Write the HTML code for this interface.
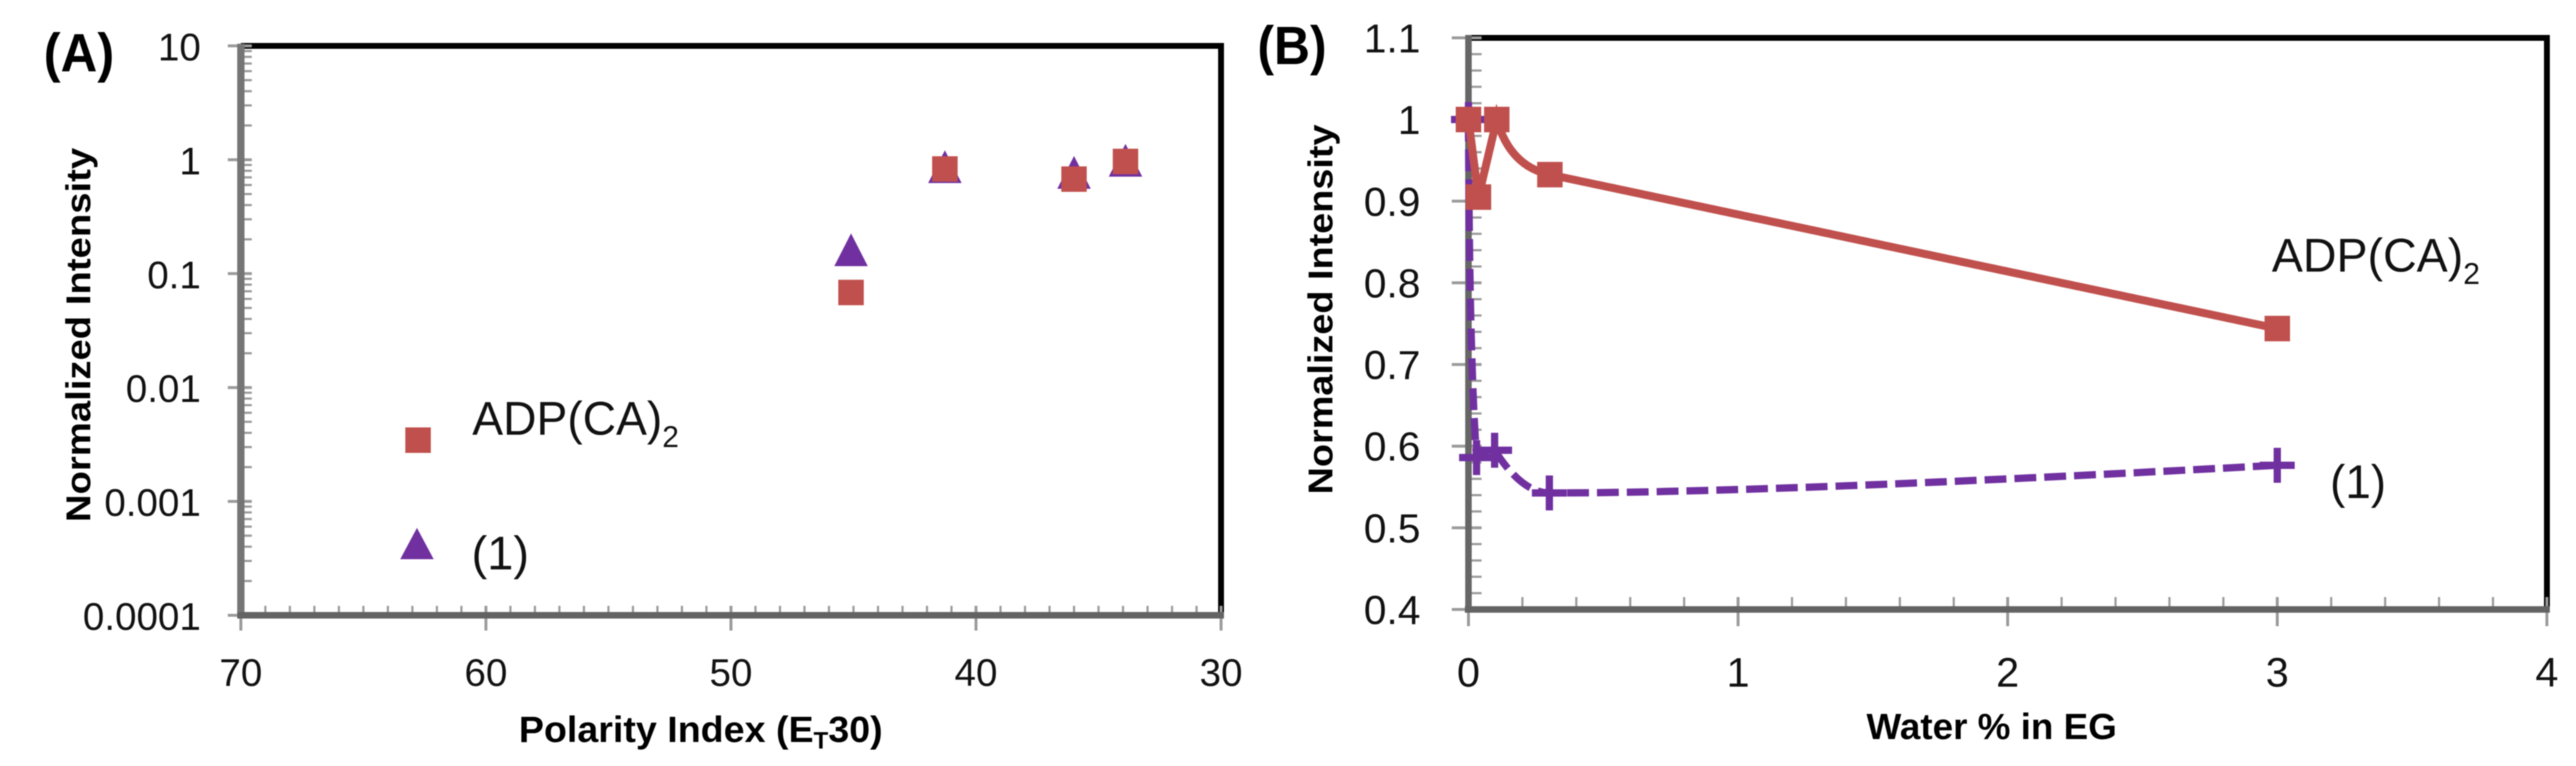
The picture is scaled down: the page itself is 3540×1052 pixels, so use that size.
<!DOCTYPE html>
<html lang="en">
<head>
<meta charset="utf-8">
<title>Normalized intensity charts</title>
<style>
html,body{margin:0;padding:0;background:#fff;width:3540px;height:1052px;overflow:hidden}
svg{display:block;filter:blur(0.7px)}
text{font-family:"Liberation Sans",sans-serif;fill:#111}
.bold{font-weight:bold;fill:#000}
</style>
</head>
<body>
<svg id="chart" xmlns="http://www.w3.org/2000/svg" width="3540" height="1052" viewBox="0 0 3540 1052">
  <rect x="0" y="0" width="3540" height="1052" fill="#fff"/>

  <!-- Panel A static furniture -->
  <g id="panel-a">
    <text class="bold" x="60" y="98" font-size="74" textLength="97" lengthAdjust="spacingAndGlyphs">(A)</text>
    <line x1="331" y1="63" x2="1682" y2="63" stroke="#000" stroke-width="8"/>
    <line x1="1678" y1="63" x2="1678" y2="845" stroke="#000" stroke-width="8"/>
    <g id="a-axes"></g>
    <line x1="331" y1="60" x2="331" y2="849" stroke="#757575" stroke-width="10"/>
    <line x1="326" y1="845" x2="1682" y2="845" stroke="#636363" stroke-width="9"/>
    <text class="bold" transform="translate(124,717) rotate(-90)" font-size="47" textLength="514" lengthAdjust="spacingAndGlyphs">Normalized Intensity</text>
    <text class="bold" x="713" y="1019" font-size="50" textLength="500" lengthAdjust="spacingAndGlyphs">Polarity Index (E<tspan font-size="32" dy="9">T</tspan><tspan dy="-9">30)</tspan></text>
    <rect x="557" y="587" width="35" height="35" fill="#c0504d"/>
    <polygon points="573,725 596,768 550,768" fill="#7030a0"/>
    <text x="649" y="597" font-size="65" textLength="284" lengthAdjust="spacingAndGlyphs">ADP(CA)<tspan font-size="42" dy="17">2</tspan></text>
    <text x="648" y="782" font-size="65" textLength="79" lengthAdjust="spacingAndGlyphs">(1)</text>
    <g id="a-marks"></g>
  </g>

  <!-- Panel B static furniture -->
  <g id="panel-b">
    <text class="bold" x="1728" y="88" font-size="74" textLength="95" lengthAdjust="spacingAndGlyphs">(B)</text>
    <line x1="2018" y1="52" x2="3504" y2="52" stroke="#000" stroke-width="8"/>
    <line x1="3500" y1="52" x2="3500" y2="837" stroke="#000" stroke-width="8"/>
    <g id="b-axes"></g>
    <line x1="2018" y1="48" x2="2018" y2="841" stroke="#666" stroke-width="9"/>
    <line x1="2013" y1="837" x2="3504" y2="837" stroke="#636363" stroke-width="9"/>
    <text class="bold" transform="translate(1831,679) rotate(-90)" font-size="47" textLength="508" lengthAdjust="spacingAndGlyphs">Normalized Intensity</text>
    <text class="bold" x="2565" y="1015" font-size="50" textLength="344" lengthAdjust="spacingAndGlyphs">Water % in EG</text>
    <text x="3122" y="373" font-size="65" textLength="286" lengthAdjust="spacingAndGlyphs">ADP(CA)<tspan font-size="42" dy="17">2</tspan></text>
    <text x="3202" y="684" font-size="65" textLength="77" lengthAdjust="spacingAndGlyphs">(1)</text>
    <g id="b-marks"></g>
  </g>
</svg>

<script>
// ---- Panel A data ----
const aXTicks = [70, 60, 50, 40, 30];
const aYTicks = [10, 1, 0.1, 0.01, 0.001, 0.0001];
const aYTickLabels = ['10', '1', '0.1', '0.01', '0.001', '0.0001'];
const aPolarity = [45.1, 41.27, 36.0, 33.9];
const aAdpValues = [0.0683, 0.83, 0.676, 0.966];
const aCompound1Values = [0.162, 0.87, 0.775, 0.99];

// ---- Panel B data ----
const bXTicks = [0, 1, 2, 3, 4];
const bYTicks = [0.4, 0.5, 0.6, 0.7, 0.8, 0.9, 1, 1.1];
const bYTickLabels = ['0.4', '0.5', '0.6', '0.7', '0.8', '0.9', '1', '1.1'];
const bWaterAdp = [0, 0.037, 0.105, 0.302, 3];
const bAdpValues = [1, 0.905, 1, 0.9325, 0.744];
const bWaterCompound1 = [0, 0.03, 0.097, 0.3, 3];
const bCompound1Values = [1, 0.586, 0.595, 0.5427, 0.5766];

// ---- Axis functions ----
const ax = v => 331 + (70 - v) * (1678 - 331) / 40;
const ay = v => 63 + (1 - Math.log10(v)) * (845 - 63) / 5;
const bx = v => 2018 + v * (3500 - 2018) / 4;
const by = v => 837 - (v - 0.4) * (837 - 52) / 0.7;

const NS = 'http://www.w3.org/2000/svg';
function make(tag, attrs, parent) {
  const el = document.createElementNS(NS, tag);
  for (const k in attrs) el.setAttribute(k, attrs[k]);
  parent.appendChild(el);
  return el;
}
// Each segment is a quadratic curve; its control point sits at a fraction of the
// chord (fx, fy), which reproduces the sag of the original's smoothed lines.
function curvePath(pts, bends) {
  let d = 'M' + pts[0][0] + ' ' + pts[0][1];
  for (let i = 0; i < pts.length - 1; i++) {
    const a = pts[i], b = pts[i + 1], f = bends[i];
    d += ' Q' + (a[0] + (b[0] - a[0]) * f[0]) + ' ' + (a[1] + (b[1] - a[1]) * f[1]) + ' ' + b[0] + ' ' + b[1];
  }
  return d;
}
function tick(parent, x1, y1, x2, y2, w) {
  const el = make('line', {x1: x1, y1: y1, x2: x2, y2: y2, stroke: '#9a9a9a', 'stroke-width': w}, parent);
  
  
}
function label(parent, x, y, str, size, anchor) {
  const el = make('text', {x: x, y: y, 'font-size': size, 'text-anchor': anchor}, parent);
  el.textContent = str;
  
  
}
function square(parent, x, y) {
  const el = make('rect', {x: x - 17.5, y: y - 17.5, width: 35, height: 35, fill: '#c0504d'}, parent);
  
  
}
function triangle(parent, x, y) {
  const el = make('polygon', {points: x + ',' + (y - 22.5) + ' ' + (x + 23) + ',' + (y + 22.5) + ' ' + (x - 23) + ',' + (y + 22.5), fill: '#7030a0'}, parent);
  
  
}
function plus(parent, x, y) {
  const el = make('path', {d: 'M' + (x - 24) + ' ' + y + 'H' + (x + 24) + 'M' + x + ' ' + (y - 24) + 'V' + (y + 24), stroke: '#7030a0', 'stroke-width': 10, fill: 'none'}, parent);
  
  
}

// ---- Panel A axes ----
const aAxes = document.getElementById('a-axes');
aYTicks.forEach((v, i) => {
  tick(aAxes, 313, ay(v), 346, ay(v), 4);
  label(aAxes, 276, ay(v) + 20, aYTickLabels[i], 53, 'end');
  if (i < aYTicks.length - 1) {
    for (let m = 2; m < 10; m++) tick(aAxes, 331, ay(aYTicks[i + 1] * m), 346, ay(aYTicks[i + 1] * m), 3);
  }
});
for (let v = aXTicks[0]; v >= aXTicks[aXTicks.length - 1]; v--) {
  if (v % 10 === 0) continue;
  tick(aAxes, ax(v), 832, ax(v), 845, 3);
}
aXTicks.forEach(v => {
  tick(aAxes, ax(v), 832, ax(v), 866, 4);
  label(aAxes, ax(v), 942, String(v), 53, 'middle');
});

// ---- Panel A marks ----
const aMarks = document.getElementById('a-marks');
aPolarity.forEach((p, i) => triangle(aMarks, ax(p), ay(aCompound1Values[i])));
aPolarity.forEach((p, i) => square(aMarks, ax(p), ay(aAdpValues[i])));

// ---- Panel B axes ----
const bAxes = document.getElementById('b-axes');
bYTicks.forEach((v, i) => {
  tick(bAxes, 1995, by(v), 2036, by(v), 4);
  label(bAxes, 1952, by(v) + 20, bYTickLabels[i], 56, 'end');
  if (i < bYTicks.length - 1) {
    for (let m = 1; m < 5; m++) tick(bAxes, 2018, by(v + m * 0.02), 2036, by(v + m * 0.02), 3);
  }
});
bXTicks.forEach((v, i) => {
  tick(bAxes, bx(v), 820, bx(v), 860, 4);
  label(bAxes, bx(v), 943, String(v), 57, 'middle');
  if (i < bXTicks.length - 1) {
    for (let m = 1; m < 5; m++) tick(bAxes, bx(v + m * 0.2), 820, bx(v + m * 0.2), 837, 3);
  }
});

// ---- Panel B marks ----
const bMarks = document.getElementById('b-marks');
const compoundPts = bWaterCompound1.map((w, i) => [bx(w), by(bCompound1Values[i])]);
const compoundLine = make('path', {d: curvePath(compoundPts, [[0.1, 0.7], [0.5, 0.5], [0.5, 1], [0.3, 0]]), fill: 'none', stroke: '#7030a0', 'stroke-width': 10, 'stroke-dasharray': '30 11', 'stroke-linecap': 'butt'}, bMarks);


compoundPts.forEach(p => plus(bMarks, p[0], p[1]));

const adpPts = bWaterAdp.map((w, i) => [bx(w), by(bAdpValues[i])]);
const adpLine = make('path', {d: curvePath(adpPts, [[0.5, 0.5], [0.5, 0.5], [0.25, 0.85], [0.5, 0.5]]), fill: 'none', stroke: '#c0504d', 'stroke-width': 11}, bMarks);


adpPts.forEach(p => square(bMarks, p[0], p[1]));
</script>
</body>
</html>
